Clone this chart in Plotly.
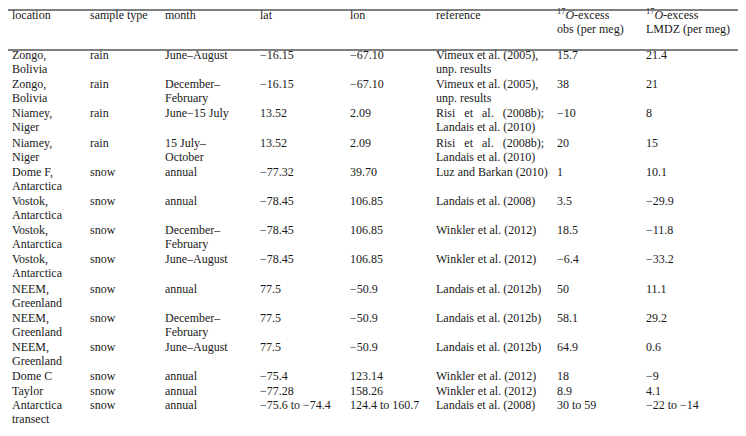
import plotly.graph_objects as go

# Dados da tabela
headers = ["location", "sample type", "month", "lat", "lon", "reference",
           "<sup>17</sup><i>O</i>-excess<br>obs (per meg)",
           "<sup>17</sup><i>O</i>-excess<br>LMDZ (per meg)"]

location = ["Zongo,<br>Bolivia", "Zongo,<br>Bolivia", "Niamey,<br>Niger", "Niamey,<br>Niger",
            "Dome F,<br>Antarctica", "Vostok,<br>Antarctica", "Vostok,<br>Antarctica",
            "Vostok,<br>Antarctica", "NEEM,<br>Greenland", "NEEM,<br>Greenland",
            "NEEM,<br>Greenland", "Dome C", "Taylor", "Antarctica<br>transect"]
sample_type = ["rain"] * 4 + ["snow"] * 10
month = ["June–August", "December–<br>February", "June−15 July", "15 July–<br>October",
         "annual", "annual", "December–<br>February", "June–August", "annual",
         "December–<br>February", "June–August", "annual", "annual", "annual"]
lat = ["−16.15", "−16.15", "13.52", "13.52", "−77.32", "−78.45", "−78.45", "−78.45",
       "77.5", "77.5", "77.5", "−75.4", "−77.28", "−75.6 to −74.4"]
lon = ["−67.10", "−67.10", "2.09", "2.09", "39.70", "106.85", "106.85", "106.85",
       "−50.9", "−50.9", "−50.9", "123.14", "158.26", "124.4 to 160.7"]
sp = "\u00a0\u00a0\u00a0"
reference = ["Vimeux et al. (2005),<br>unp. results", "Vimeux et al. (2005),<br>unp. results",
             f"Risi{sp}et{sp}al.{sp}(2008b);<br>Landais et al. (2010)",
             f"Risi{sp}et{sp}al.{sp}(2008b);<br>Landais et al. (2010)",
             "Luz and Barkan (2010)", "Landais et al. (2008)", "Winkler et al. (2012)",
             "Winkler et al. (2012)", "Landais et al. (2012b)", "Landais et al. (2012b)",
             "Landais et al. (2012b)", "Winkler et al. (2012)", "Winkler et al. (2012)",
             "Landais et al. (2008)"]
obs = ["15.7", "38", "−10", "20", "1", "3.5", "18.5", "−6.4", "50", "58.1", "64.9",
       "18", "8.9", "30 to 59"]
lmdz = ["21.4", "21", "8", "15", "10.1", "−29.9", "−11.8", "−33.2", "11.1", "29.2",
        "0.6", "−9", "4.1", "−22 to −14"]

colunas = [location, sample_type, month, lat, lon, reference, obs, lmdz]

# layout em pixels (o texto "middle right" desloca ~6px)
col_x = [4, 82, 157, 252, 342, 428, 549, 638]
linha_h = 14.6
y_corpo = 48
y_cab = 8
cor_texto = "#1a1a1a"
fonte = dict(family="Liberation Serif", size=12, color=cor_texto)

fig = go.Figure()


def adiciona_celula(x, y, texto):
    partes = texto.split("<br>")
    fig.add_trace(go.Scatter(
        x=[x] * len(partes),
        y=[y + k * 14 for k in range(len(partes))],
        text=partes,
        mode="text",
        textposition="middle right",
        textfont=fonte,
        hoverinfo="skip",
        showlegend=False,
    ))


# cabeçalho
for x, h in zip(col_x, headers):
    adiciona_celula(x, y_cab, h)

# corpo
y = y_corpo
for i in range(len(location)):
    n_linhas = max(len(c[i].split("<br>")) for c in colunas)
    for x, c in zip(col_x, colunas):
        adiciona_celula(x, y, c[i])
    y += n_linhas * linha_h

# linhas horizontais
for y0, w in [(2, 1.6), (42, 1.3), (432, 1.6)]:
    fig.add_shape(type="line", xref="x", yref="y", x0=0, x1=746, y0=y0, y1=y0,
                  line=dict(color="#555", width=w))

fig.update_layout(
    width=746, height=436,
    margin=dict(l=0, r=0, t=0, b=0),
    paper_bgcolor="white",
    plot_bgcolor="white",
    xaxis=dict(range=[0, 746], visible=False, fixedrange=True),
    yaxis=dict(range=[436, 0], visible=False, fixedrange=True),
)

fig.write_html("out.html")
